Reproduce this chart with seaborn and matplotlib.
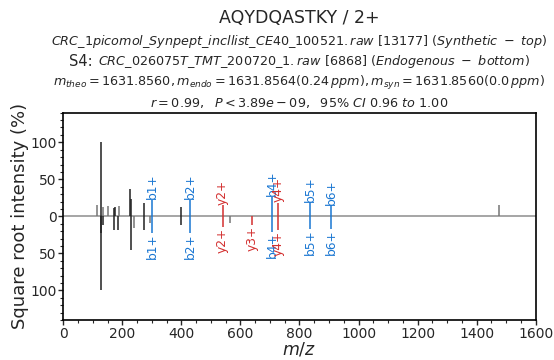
import matplotlib
matplotlib.use("Agg")
import matplotlib.pyplot as plt
from matplotlib.ticker import MultipleLocator, FuncFormatter
import seaborn as sns
import pandas as pd

# Synthetic spectrum (drawn upward)
top_mz = [113.1, 127.1, 136.1, 150.1, 173.1, 175.6, 189.1, 226.1, 227.6, 274.1,
          301.2, 400.2, 429.3, 539.3, 707.4, 727.4, 835.4, 906.5, 1474.7]
top_int = [15, 100, 13, 14, 11, 12, 14, 37, 24, 18,
           22, 13, 22, 15, 26, 18, 19, 15, 15]
top_ion = ["", "", "", "", "", "", "", "", "", "",
           "b1+", "", "b2+", "y2+", "b4+", "y4+", "b5+", "b6+", ""]
top_shade = ["g", "k", "g", "g", "k", "k", "g", "k", "k", "k",
             "", "k", "", "", "", "", "", "", "g"]

# Endogenous spectrum (drawn downward)
bot_mz = [126.1, 127.1, 135.6, 173.1, 186.1, 228.6, 238.1, 274.1, 294.1,
          301.2, 400.2, 429.3, 539.3, 564.3, 640.4, 707.4, 727.4, 835.4, 906.5]
bot_int = [100, 23, 11, 19, 19, 45, 16, 18, 9,
           22, 12, 22, 15, 9, 12, 21, 19, 17, 17]
bot_ion = ["", "", "", "", "", "", "", "", "",
           "b1+", "", "b2+", "y2+", "", "y3+", "b4+", "y4+", "b5+", "b6+"]
bot_shade = ["k", "k", "k", "k", "k", "k", "g", "k", "g",
             "", "k", "", "", "g", "", "", "", "", ""]

title = "AQYDQASTKY / 2+"
line_syn = r"$\it{CRC\_1picomol\_Synpept\_incllist\_CE40\_100521.raw}$ [13177] ($\it{Synthetic\ -\ top}$)"
line_endo_tag = "S4:"
line_endo = r"$\it{CRC\_026075T\_TMT\_200720\_1.raw}$ [6868] ($\it{Endogenous\ -\ bottom}$)"
line_mass = (r"$m_{theo} = 1631.8560, m_{endo} = 1631.8564 (0.24\,ppm), "
             r"m_{syn} = 1631.8560 (0.0\,ppm)$")
line_stat = r"$r = 0.99,\ \ P < 3.89e-09,\ \ 95\%\ CI\ 0.96\ to\ 1.00$"

ion_colors = {"b": "#1976D2", "y": "#D32F2F"}
shade_colors = {"k": "#212121", "g": "#757575"}

sns.set_theme(style="ticks")
plt.rcParams["font.family"] = ["DejaVu Sans"]
plt.rcParams["mathtext.fontset"] = "dejavusans"

top = pd.DataFrame({"mz": top_mz, "intensity": top_int, "ion": top_ion, "shade": top_shade})
bot = pd.DataFrame({"mz": bot_mz, "intensity": [-v for v in bot_int], "ion": bot_ion,
                    "shade": bot_shade})
peaks = pd.concat([top, bot], ignore_index=True)
peaks["color"] = [ion_colors[i[0]] if i else shade_colors[s]
                  for i, s in zip(peaks["ion"], peaks["shade"])]

fig = plt.figure(figsize=(5.54, 3.6), dpi=100)
ax = fig.add_axes([0.1143, 0.111, 0.8525, 0.576])

ax.axhline(0, color="#9E9E9E", lw=1.3, zorder=1)
ax.vlines(peaks["mz"], 0, peaks["intensity"], colors=peaks["color"], lw=1.1, zorder=2)

for _, p in peaks[peaks["ion"] != ""].iterrows():
    up = p["intensity"] > 0
    ax.text(p["mz"], p["intensity"] + (1 if up else -1), p["ion"], rotation=90,
            ha="center", va="bottom" if up else "top", color=p["color"], fontsize=8.8,
            zorder=3)

ax.set_xlim(0, 1600)
ax.set_ylim(-140, 140)
ax.xaxis.set_major_locator(MultipleLocator(200))
ax.xaxis.set_minor_locator(MultipleLocator(50))
ax.yaxis.set_major_locator(MultipleLocator(50))
ax.yaxis.set_minor_locator(MultipleLocator(10))
ax.yaxis.set_major_formatter(FuncFormatter(lambda v, _: f"{abs(v):.0f}"))
ax.tick_params(which="major", length=3.5, width=1, labelsize=10, pad=1.5, direction="out")
ax.tick_params(which="minor", length=2, width=0.8, direction="out")
for s in ax.spines.values():
    s.set_color("black")
    s.set_linewidth(1.2)
ax.set_xlabel(r"$m/z$", fontsize=12.5, labelpad=0)
ax.set_ylabel("Square root intensity (%)", fontsize=13, labelpad=1)

cx = 0.5404
fs = 9.2
fig.text(cx, 1 - 18 / 360, title, ha="center", va="center", fontsize=12.5)
fig.text(cx, 1 - 41 / 360, line_syn, ha="center", va="center", fontsize=fs)

# Endogenous line: the "S4:" tag sits in front of the italic file name, a bit larger
fig.canvas.draw()
r = fig.canvas.get_renderer()
tag = fig.text(0, 1 - 62 / 360, line_endo_tag + " ", ha="left", va="center", fontsize=10.5)
body = fig.text(0, 1 - 62 / 360, line_endo, ha="left", va="center", fontsize=fs)
w_tag = tag.get_window_extent(r).width / fig.bbox.width
w_body = body.get_window_extent(r).width / fig.bbox.width
x0 = cx - (w_tag + w_body) / 2
tag.set_x(x0)
body.set_x(x0 + w_tag)

fig.text(cx, 1 - 83 / 360, line_mass, ha="center", va="center", fontsize=fs)
fig.text(cx, 1 - 103 / 360, line_stat, ha="center", va="center", fontsize=fs)

fig.savefig("out.png", dpi=100)
